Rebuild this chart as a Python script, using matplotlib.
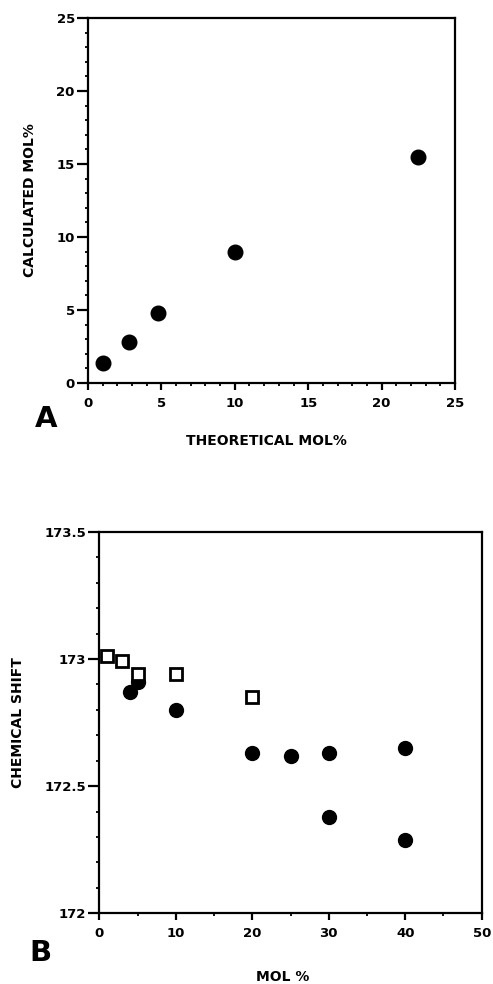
import matplotlib
matplotlib.use('Agg')
import matplotlib.pyplot as plt
from matplotlib.ticker import MultipleLocator

plt.rcParams['font.family'] = ['DejaVu Sans']
plt.rcParams['font.weight'] = 'bold'

# panel A data
theo_mol = [1.0, 2.8, 4.8, 10.0, 22.5]
calc_mol = [1.4, 2.8, 4.8, 9.0, 15.5]

# panel B data
mol_sq = [1, 3, 5, 10, 20]
shift_sq = [173.01, 172.99, 172.94, 172.94, 172.85]
mol_ci = [4, 5, 10, 20, 25, 30, 40, 30, 40]
shift_ci = [172.87, 172.91, 172.80, 172.63, 172.62, 172.63, 172.65, 172.38, 172.29]

fig = plt.figure(figsize=(4.93, 9.84), dpi=100)


def style(ax):
    for s in ax.spines.values():
        s.set_linewidth(1.6)
    ax.tick_params(which='major', direction='out', width=1.6, labelsize=9.5)
    ax.tick_params(axis='x', which='major', length=5, pad=5)
    ax.tick_params(axis='y', which='major', length=8, pad=1.5)
    ax.tick_params(which='minor', direction='out', length=2.5, width=1.3)
    for lab in ax.get_xticklabels() + ax.get_yticklabels():
        lab.set_fontweight('bold')


def place_labels(ax, xl, yl):
    ax.xaxis.set_label_coords(*xl)
    ax.yaxis.set_label_coords(*yl)
    ax.xaxis.label.set_va('center')
    ax.yaxis.label.set_va('center')


# ---- panel A ----
axA = fig.add_axes([0.1785, 0.6108, 0.7444, 0.3709])
axA.plot(theo_mol, calc_mol, 'o', color='black', markersize=10.5, clip_on=False)
axA.set_xlim(0, 25)
axA.set_ylim(0, 25)
axA.xaxis.set_major_locator(MultipleLocator(5))
axA.yaxis.set_major_locator(MultipleLocator(5))
axA.xaxis.set_minor_locator(MultipleLocator(1))
axA.yaxis.set_minor_locator(MultipleLocator(1))
style(axA)
axA.set_xlabel('THEORETICAL MOL%', fontsize=10, fontweight='bold')
axA.set_ylabel('CALCULATED MOL%', fontsize=10, fontweight='bold')
place_labels(axA, (0.487, -0.159), (-0.158, 0.5))
fig.text(0.093, 0.574, 'A', fontsize=21, fontweight='bold', ha='center', va='center')

# ---- panel B ----
axB = fig.add_axes([0.2014, 0.0718, 0.7757, 0.3878])
axB.plot(mol_ci, shift_ci, 'o', color='black', markersize=10, clip_on=False)
axB.plot(mol_sq, shift_sq, 's', markerfacecolor='white', markeredgecolor='black',
         markeredgewidth=2, markersize=8, clip_on=False)
axB.set_xlim(0, 50)
axB.set_ylim(172, 173.5)
axB.xaxis.set_major_locator(MultipleLocator(10))
axB.yaxis.set_major_locator(MultipleLocator(0.5))
axB.xaxis.set_minor_locator(MultipleLocator(5))
axB.yaxis.set_minor_locator(MultipleLocator(0.1))
axB.yaxis.set_major_formatter(plt.FuncFormatter(lambda v, p: '%g' % v))
style(axB)
axB.set_xlabel('MOL %', fontsize=10, fontweight='bold')
axB.set_ylabel('CHEMICAL SHIFT', fontsize=10, fontweight='bold')
place_labels(axB, (0.48, -0.167), (-0.213, 0.499))
fig.text(0.083, 0.0315, 'B', fontsize=21, fontweight='bold', ha='center', va='center')

plt.savefig('out.png', dpi=100)
plt.close()
